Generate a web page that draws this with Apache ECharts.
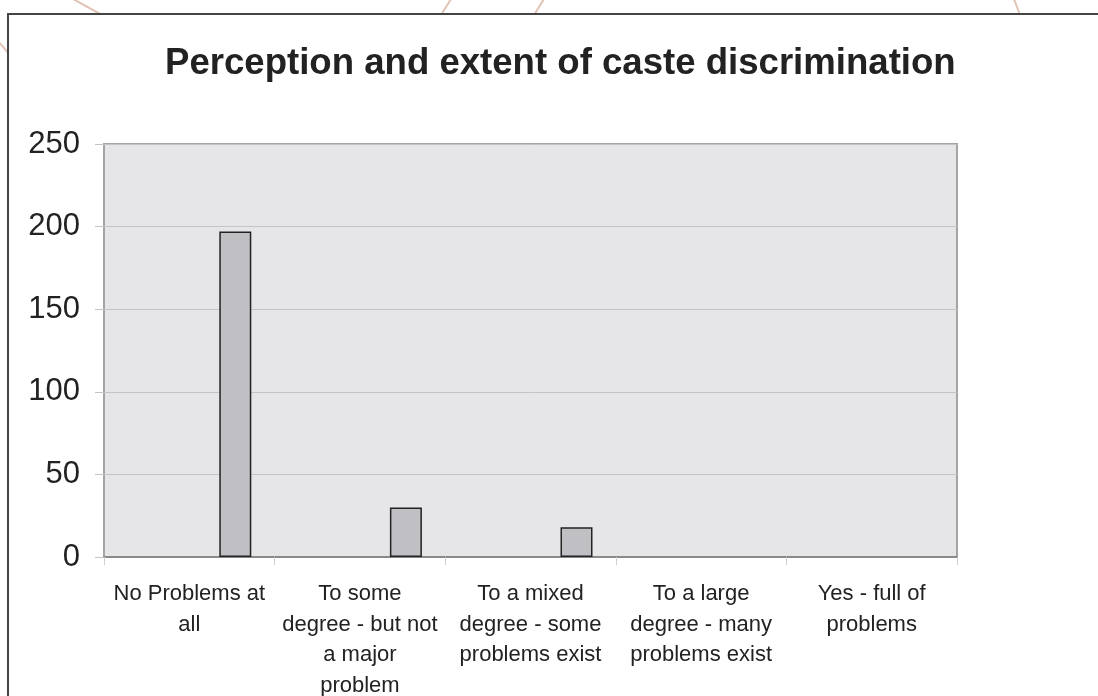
<!DOCTYPE html>
<html>
<head>
<meta charset="utf-8">
<script src="https://cdn.jsdelivr.net/npm/echarts@6/dist/echarts.min.js"></script>
<style>
  html, body { margin: 0; padding: 0; background: #fff; }
  #deco { position: absolute; left: 0; top: 0; }
  #frame { position: absolute; left: 7px; top: 13px; width: 1200px; height: 800px;
           border: 2px solid #444; background: #fff; }
  #main { position: absolute; left: 0; top: 0; width: 1098px; height: 696px; }
</style>
</head>
<body>
<svg id="deco" width="1098" height="696">
  <g stroke="#e2c4b6" stroke-width="2">
    <line x1="73" y1="-1" x2="102" y2="15"/>
    <line x1="-2" y1="41" x2="10" y2="55"/>
    <line x1="451" y1="-1" x2="441" y2="15"/>
    <line x1="544" y1="-1" x2="534" y2="15"/>
    <line x1="1014" y1="-1" x2="1020" y2="15"/>
  </g>
</svg>
<div id="frame"></div>
<div id="main"></div>
<script>
// categories and values
const categories = [
  'No Problems at\nall',
  'To some\ndegree - but not\na major\nproblem',
  'To a mixed\ndegree - some\nproblems exist',
  'To a large\ndegree - many\nproblems exist',
  'Yes - full of\nproblems'
];
const counts = [197, 30, 18, 0, 0];
// empty placeholder series, it only pushes the real bars right of the category centre
const placeholder = [null, null, null, null, null];

const font = "'Liberation Sans', Arial, sans-serif";

const myChart = echarts.init(document.getElementById('main'));

// zero bars draw nothing in the original, so drop their outline
let barData = counts.map(v => ({
  value: v,
  itemStyle: v === 0 ? { borderWidth: 0 } : {}
}));

let option = {
  animation: false,
  backgroundColor: 'transparent',
  title: {
    text: 'Perception and extent of caste discrimination',
    left: 160,
    top: 40,
    textStyle: { fontFamily: font, fontSize: 36.6, fontWeight: 'bold', color: '#222' }
  },
  grid: {
    left: 104, right: 141, top: 144, bottom: 139,
    outerBoundsMode: 'none',
    show: true,
    backgroundColor: '#e6e6e8',
    borderColor: '#a4a4a4',
    borderWidth: 2
  },
  xAxis: {
    type: 'category',
    data: categories,
    axisLine: { lineStyle: { color: '#8a8a8a', width: 2 } },
    axisTick: { show: true, length: 8, lineStyle: { color: '#cfcfcf' } },
    axisLabel: {
      interval: 0,
      margin: 22,
      fontFamily: font,
      fontSize: 22,
      lineHeight: 30.5,
      color: '#222',
      align: 'center'
    }
  },
  yAxis: {
    type: 'value',
    min: 0,
    max: 250,
    interval: 50,
    axisLine: { show: false },
    axisTick: { show: true, length: 9, lineStyle: { color: '#c4c4c4' } },
    splitLine: { lineStyle: { color: '#c4c4c4', width: 1 } },
    axisLabel: { margin: 24, fontFamily: font, fontSize: 31, color: '#222' }
  },
  series: [
    {
      type: 'bar',
      data: placeholder,
      barWidth: 32,
      barGap: '187.5%',
      silent: true
    },
    {
      type: 'bar',
      data: barData,
      barWidth: 32,
      itemStyle: { color: '#c0c0c4', borderColor: '#222', borderWidth: 1.5 }
    }
  ]
};

myChart.setOption(option);
</script>
</body>
</html>
